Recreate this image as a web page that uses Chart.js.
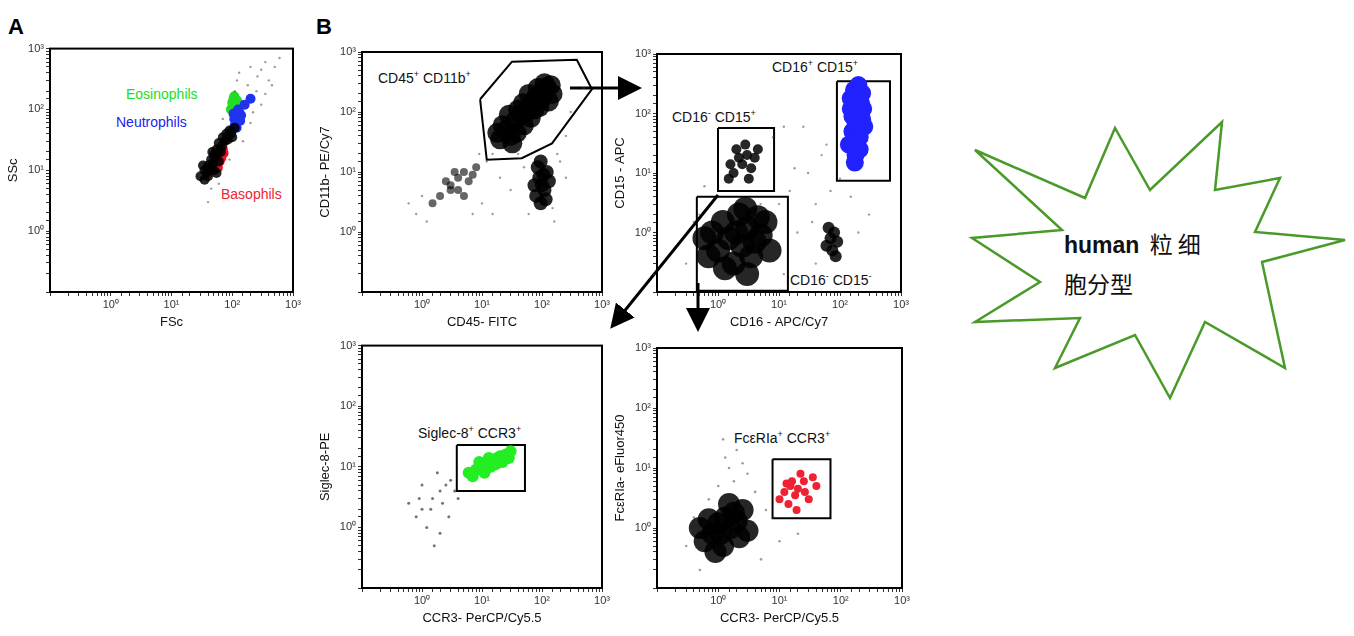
<!DOCTYPE html>
<html><head><meta charset="utf-8">
<script src="https://cdn.jsdelivr.net/npm/chart.js@4"></script>
<style>
body{margin:0;width:1354px;height:636px;background:#fff;position:relative;font-family:"Liberation Sans",Arial,sans-serif;overflow:hidden}
.c{position:absolute}
.t{position:absolute;font-size:14px;color:#111;white-space:nowrap}
.t sup{font-size:9px}
.L{position:absolute;font-size:22px;font-weight:bold}
</style></head><body>
<div class="L" style="left:8px;top:14px">A</div>
<div class="L" style="left:316px;top:14px">B</div>

<div class="t" style="left:126px;top:86px;color:#22dd22">Eosinophils</div>
<div class="t" style="left:116px;top:114px;color:#2222ee">Neutrophils</div>
<div class="t" style="left:221px;top:186px;color:#ee2233">Basophils</div>
<div class="t" style="left:378px;top:69px">CD45<sup>+</sup> CD11b<sup>+</sup></div>
<div class="t" style="left:772px;top:58px">CD16<sup>+</sup> CD15<sup>+</sup></div>
<div class="t" style="left:672px;top:108px">CD16<sup>-</sup> CD15<sup>+</sup></div>
<div class="t" style="left:790px;top:271px">CD16<sup>-</sup> CD15<sup>-</sup></div>
<div class="t" style="left:418px;top:424px">Siglec-8<sup>+</sup> CCR3<sup>+</sup></div>
<div class="t" style="left:734px;top:429px">FcεRIa<sup>+</sup> CCR3<sup>+</sup></div>

<svg class="c" style="left:0;top:0" width="1354" height="636">
<defs><marker id="ah" markerWidth="8" markerHeight="8" refX="6" refY="4" orient="auto"><path d="M0,0 L8,4 L0,8 z" fill="#000"/></marker></defs>
<g stroke="#000" stroke-width="3" fill="none" marker-end="url(#ah)">
<line x1="570" y1="88" x2="636" y2="88"/>
<line x1="718" y1="195" x2="614" y2="324"/>
<line x1="698" y1="283" x2="698" y2="326"/>
</g>
<polygon fill="#fff" stroke="#4a9a2a" stroke-width="2.5" points="1222,122 1215,190 1280,178 1255,232 1345,240 1262,262 1285,368 1205,322 1170,398 1135,335 1055,368 1080,318 975,322 1040,282 972,238 1062,230 975,150 1085,198 1115,128 1150,190"/>
</svg>
<div class="t" style="left:1064px;top:224px;font-size:23px;line-height:38px;font-family:'Noto Sans CJK SC',sans-serif"><b style="font-family:'Liberation Sans',Arial">human</b>&nbsp; 粒 细<br>胞分型</div>

<canvas id="pA" class="c"></canvas>
<canvas id="pB1" class="c"></canvas>
<canvas id="pB2" class="c"></canvas>
<canvas id="pB3" class="c"></canvas>
<canvas id="pB4" class="c"></canvas>

<script>
// ---- tick labels (powers of ten)
const tickValues = [1, 10, 100, 1000];
const tickLabels = ['10⁰', '10¹', '10²', '10³'];

// ---- Panel A: FSc / SSc
const aSparse = [[40,3],[60,6],[90,15],[150,30],[200,60],[300,120],[250,200],[400,300],[500,500],[600,700],[180,250],[120,300],[350,180],[220,90],[80,25],[45,5],[300,450],[450,250],[160,120],[260,350],[130,400],[70,70],[200,500],[110,200],[350,600]];
const aBlack = [[30,8],[35,10],[40,12],[45,15],[50,18],[55,22],[60,28],[70,35],[80,40],[40,8],[50,10],[60,14],[35,7],[45,11],[65,20],[75,30],[90,45],[100,35],[110,50],[55,9],[38,9],[42,10],[48,13],[52,16],[58,20],[68,25],[85,32],[95,40],[33,12],[47,20]];
const aRed = [[55,12],[60,15],[65,18],[70,22],[62,14],[58,11],[66,16],[72,19]];
const aBlue = [[100,45],[110,55],[120,70],[105,85],[130,90],[115,60],[140,80],[125,100],[160,120],[200,150],[108,70],[118,50],[135,65]];
const aGreen = [[100,110],[110,130],[105,150],[115,120],[95,100],[108,165],[120,140],[100,130]];

// ---- Panel B1: CD45 / CD11b
const b1Main = [[25,50],[35,70],[45,90],[60,120],[80,180],[100,220],[120,260],[30,40],[50,60],[70,150],[90,120],[20,35],[40,110],[150,200],[110,300],[65,80],[22,60],[28,90],[38,45],[55,100],[75,110],[95,160],[130,150],[85,250],[48,140],[32,30],[18,45],[140,280],[105,180],[60,200]];
const b1Low = [[80,4],[100,6],[90,8],[110,5],[120,10],[95,3],[130,7],[85,12],[75,6],[105,9],[115,3.5],[95,15]];
const b1Left = [[2,4],[3,6],[4,8],[5,10],[1.5,3],[6,7],[8,12],[3,5],[2.5,7],[4,5],[5,4],[7,9],[3.5,10]];
const b1Sparse = [[0.8,2],[1,4],[12,15],[15,20],[200,15],[250,40],[300,100],[60,2],[150,2.5],[10,3],[40,20],[500,250],[20,8],[180,20],[7,2],[1.2,1.5],[0.6,3],[30,5],[50,12],[160,1.5],[250,8],[15,2],[9,20]];
const b1Gate = [[9.3,163],[31.6,690],[380,740],[680,240],[147,30],[46,17],[12,16],[9.3,163]];

// ---- Panel B2: CD16 / CD15
const b2Blue = [[140,30],[160,50],[180,70],[200,100],[220,150],[190,200],[170,250],[210,40],[230,80],[150,120],[250,60],[180,20],[200,300],[160,90],[240,120],[190,35],[150,180],[230,220],[175,15],[210,25]];
const b2Pos = [[1.8,10],[2.5,14],[3,20],[2,25],[3.5,12],[1.5,8],[4,18],[2.8,30],[2.2,18],[3.2,8],[1.6,14],[4.5,25]];
const b2Neg = [[1,0.5],[1.5,0.8],[2,1],[2.5,0.6],[3,1.2],[4,0.7],[5,0.9],[1.8,0.3],[2.2,2],[3.5,0.4],[0.8,1],[6,1.5],[1.2,1.5],[0.7,0.4],[1.3,0.25],[2.8,2.5],[4.5,1.8],[7,0.5],[0.6,0.8],[3,0.2]];
const b2Right = [[60,0.6],[70,0.8],[80,1],[75,0.5],[90,0.7],[65,1.2],[85,0.4]];
const b2Sparse = [[0.3,0.3],[0.5,2],[10,3],[15,5],[30,10],[50,20],[20,1],[40,0.3],[8,40],[100,8],[60,30],[0.6,6],[5,3],[25,60],[12,0.2],[300,2],[150,4],[18,12],[40,3],[70,5],[0.4,1.5],[12,60],[200,1],[35,1.5]];
const b2GateA = [[89,350],[660,350],[660,7.4],[89,7.4],[89,350]];
const b2GateB = [[1,57],[8.3,57],[8.3,5],[1,5],[1,57]];
const b2GateC = [[0.45,4],[14,4],[14,0.105],[0.45,0.105],[0.45,4]];

// ---- Panel B3: CCR3 / Siglec-8
const b3Green = [[8,9],[10,11],[12,12],[15,13],[18,14],[20,15],[25,16],[14,10],[11,8],[7,7],[30,18],[22,12],[9,12],[13,14],[17,11],[6,8],[28,14]];
const b3Grey = [[1,2],[1.5,3],[2,4],[0.8,1.5],[2.5,5],[1.2,1],[3,6],[0.6,2.5],[1.8,8],[2,0.8],[4,3],[1,5],[1.4,2],[2.2,2.5],[3.5,4],[0.9,3],[2.8,1.5],[1.6,0.5]];
const b3Gate = [[3.8,23],[52,23],[52,4],[3.8,4],[3.8,23]];

// ---- Panel B4: CCR3 / FceRIa
const b4Black = [[0.8,0.8],[1,1.2],[1.3,1.5],[1.6,1],[2,1.3],[0.6,0.6],[1.2,0.5],[2.5,2],[0.5,1],[1.5,2.5],[0.9,0.4],[3,0.9],[1.1,0.8],[1.8,1.8],[0.7,1.4],[2.2,0.7]];
const b4Sparse = [[0.3,0.5],[0.4,1.5],[1,5],[1.5,10],[2,20],[1.2,30],[4,4],[6,2],[10,0.6],[0.5,0.2],[3,8],[20,0.8],[0.7,3],[1.8,6],[2.5,12],[1.3,15],[5,0.3],[0.35,0.9],[8,1.5]];
const b4Red = [[12,4],[15,5],[18,3.5],[20,4.5],[25,6],[30,3],[14,2.5],[22,8],[40,5],[10,3],[16,6],[26,4],[19,2],[35,7],[13,5.5]];
const b4Gate = [[7.7,14],[68,14],[68,1.45],[7.7,1.45],[7.7,14]];

const pts = a => a.map(p => ({x: p[0], y: p[1]}));
const dots = (a, color, r) => ({type: 'scatter', data: pts(a), backgroundColor: color, borderWidth: 0, pointRadius: r});
const gate = a => ({type: 'line', data: pts(a), borderColor: '#000', borderWidth: 2, pointRadius: 0, fill: false, tension: 0});

function logAxis(title) {
    return {
        type: 'logarithmic', min: 0.1, max: 1000,
        border: {color: '#000', width: 2},
        grid: {display: true, drawOnChartArea: false, drawTicks: true, tickLength: 4, color: '#333'},
        ticks: {
            color: '#333', font: {size: 11}, autoSkip: false, maxRotation: 0, padding: 2,
            callback: v => { const i = tickValues.indexOf(v); return i >= 0 ? tickLabels[i] : ''; }
        },
        title: {display: true, text: title, color: '#111', font: {size: 13}, padding: 0}
    };
}

function makePanel(id, plotL, plotT, plotW, plotH, xTitle, yTitle, datasets) {
    const cv = document.getElementById(id);
    const YW = 44, XH = 38;
    const W = plotW + YW + 10, H = plotH + 8 + XH;
    cv.style.left = (plotL - YW) + 'px';
    cv.style.top = (plotT - 8) + 'px';
    cv.style.width = W + 'px'; cv.style.height = H + 'px';
    cv.width = W; cv.height = H;
    const xs = logAxis(xTitle), ys = logAxis(yTitle);
    xs.afterFit = s => { s.height = XH; };
    ys.afterFit = s => { s.width = YW; };
    new Chart(cv, {
        type: 'scatter',
        data: {datasets: datasets},
        options: {
            responsive: false, animation: false,
            layout: {padding: {top: 8, right: 10}},
            plugins: {legend: {display: false}, tooltip: {enabled: false}},
            scales: {x: xs, y: ys}
        },
        plugins: [{
            id: 'frame',
            afterDraw(c) {
                const a = c.chartArea, g = c.ctx;
                g.save(); g.strokeStyle = '#000'; g.lineWidth = 2;
                g.strokeRect(a.left, a.top, a.right - a.left, a.bottom - a.top);
                g.restore();
            }
        }]
    });
}

const blk = 'rgba(0,0,0,0.85)', gry = 'rgba(60,60,60,0.5)';
makePanel('pA', 50, 48, 243, 244, 'FSc', 'SSc', [
    dots(aSparse, gry, 1.2), dots(aBlack, blk, 5), dots(aRed, '#ee1122', 5),
    dots(aBlue, '#2233ee', 5), dots(aGreen, '#22dd22', 5)
]);
makePanel('pB1', 362, 50, 240, 242, 'CD45- FITC', 'CD11b- PE/Cy7', [
    dots(b1Sparse, gry, 1.2), dots(b1Left, 'rgba(0,0,0,0.6)', 4), dots(b1Low, blk, 7),
    dots(b1Main, blk, 10), gate(b1Gate)
]);
makePanel('pB2', 657, 50, 246, 242, 'CD16 - APC/Cy7', 'CD15 - APC', [
    dots(b2Sparse, gry, 1.2), dots(b2Neg, blk, 12), dots(b2Pos, blk, 5), dots(b2Right, blk, 6),
    dots(b2Blue, '#2222ff', 9), gate(b2GateA), gate(b2GateB), gate(b2GateC)
]);
makePanel('pB3', 362, 345, 240, 243, 'CCR3- PerCP/Cy5.5', 'Siglec-8-PE', [
    dots(b3Grey, 'rgba(0,0,0,0.55)', 1.5), dots(b3Green, '#22ee22', 6), gate(b3Gate)
]);
makePanel('pB4', 657, 345, 246, 243, 'CCR3- PerCP/Cy5.5', 'FcεRIa- eFluor450', [
    dots(b4Sparse, gry, 1.3), dots(b4Black, blk, 11), dots(b4Red, '#ee2233', 4), gate(b4Gate)
]);
</script>
</body></html>
